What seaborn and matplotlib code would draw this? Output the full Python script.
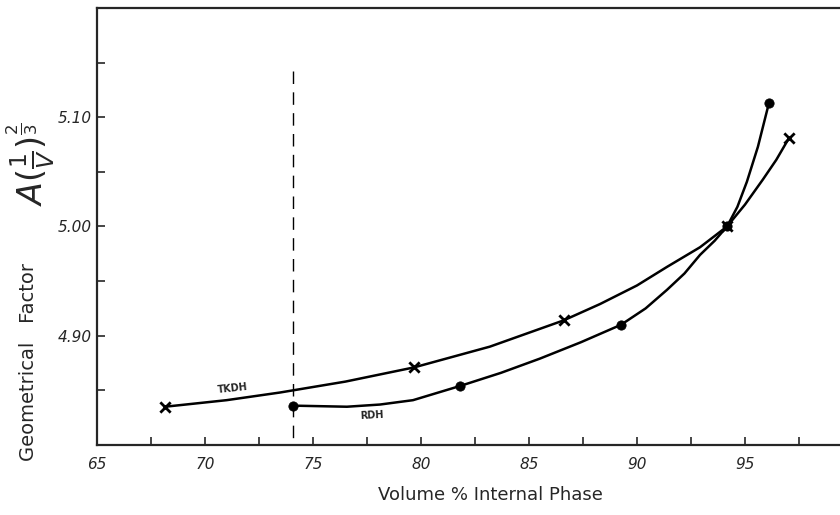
import matplotlib
matplotlib.use("Agg")
import matplotlib.pyplot as plt
import numpy as np
import pandas as pd
import seaborn as sns

# Marker points
tkdh_x = [68.15, 79.68, 86.6, 94.17, 97.04]
tkdh_y = [4.835, 4.871, 4.914, 5.000, 5.081]
rdh_x = [74.07, 81.81, 89.26, 94.17, 96.11]
rdh_y = [4.836, 4.854, 4.910, 5.000, 5.113]

# Points
tkdh_curve_x = [68.15, 71.0, 73.47, 76.5, 79.68, 83.19, 86.6, 88.29, 90.0,
                91.39, 92.92, 94.17, 95.0, 95.83, 96.45, 97.04]
tkdh_curve_y = [4.835, 4.841, 4.848, 4.858, 4.871, 4.890, 4.914, 4.929, 4.946,
                4.963, 4.981, 5.000, 5.020, 5.043, 5.061, 5.081]
rdh_curve_x = [74.07, 76.57, 78.1, 79.63, 81.81, 83.7, 85.5, 87.4, 89.26,
               90.4, 91.39, 92.2, 92.92, 93.6, 94.17, 94.65, 95.09, 95.6, 96.11]
rdh_curve_y = [4.836, 4.835, 4.837, 4.841, 4.854, 4.866, 4.879, 4.894, 4.910,
               4.925, 4.942, 4.957, 4.974, 4.987, 5.000, 5.018, 5.041, 5.073, 5.113]

close_packing = 74.07
x_major = [65, 70, 75, 80, 85, 90, 95]
x_minor = [67.5, 72.5, 77.5, 82.5, 87.5, 92.5, 97.5]
y_major = [4.90, 5.00, 5.10]
y_minor = [4.85, 4.95, 5.05, 5.15]

sns.set_style("ticks")
plt.rcParams["font.family"] = ["DejaVu Sans"]

fig = plt.figure(figsize=(8.4, 5.15), dpi=100)
ax = fig.add_axes([0.1155, 0.136, 0.8845, 0.8485])

curves = pd.concat([
    pd.DataFrame({"x": tkdh_curve_x, "y": tkdh_curve_y, "s": "TKDH"}),
    pd.DataFrame({"x": rdh_curve_x, "y": rdh_curve_y, "s": "RDH"}),
])
sns.lineplot(data=curves, x="x", y="y", units="s", estimator=None, sort=False,
             color="black", linewidth=1.8, ax=ax)

sns.scatterplot(x=tkdh_x, y=tkdh_y, marker="x", s=55, color="black",
                linewidth=2, ax=ax)
sns.scatterplot(x=rdh_x, y=rdh_y, marker="o", s=45, color="black",
                edgecolor="black", ax=ax)

ax.plot([close_packing, close_packing], [5.142, 4.80], color="black",
        linewidth=1.0, dashes=(9, 6))

ax.text(71.3, 4.846, "TKDH", fontsize=7, fontweight="bold", rotation=6,
        ha="center", va="bottom")
ax.text(77.7, 4.832, "RDH", fontsize=7, fontweight="bold", rotation=3,
        ha="center", va="top")

ax.set_xlim(65, 99.4)
ax.set_ylim(4.80, 5.20)
ax.set_xticks(x_major)
ax.set_xticklabels([str(v) for v in x_major], fontstyle="italic", fontsize=11)
ax.set_xticks(x_minor, minor=True)
ax.set_yticks(y_major)
ax.set_yticklabels([f"{v:.2f}" for v in y_major], fontstyle="italic",
                   fontsize=11)
ax.set_yticks(y_minor, minor=True)
ax.tick_params(which="both", direction="in", length=6, width=1.2)
ax.tick_params(axis="x", pad=9)

for side in ["left", "bottom", "top"]:
    ax.spines[side].set_visible(True)
    ax.spines[side].set_linewidth(1.6)
ax.spines["right"].set_visible(False)

ax.set_xlabel("Volume % Internal Phase", fontsize=13)
ax.xaxis.set_label_coords(0.53, -0.095)
ax.set_ylabel("")

fig.text(0.034, 0.105, "Geometrical   Factor", rotation=90, fontsize=14,
         ha="center", va="bottom")
fig.text(0.036, 0.60, r"$A(\frac{1}{V})^{\frac{2}{3}}$", rotation=90,
         fontsize=24, ha="center", va="bottom")

fig.savefig("out.png", dpi=100)
